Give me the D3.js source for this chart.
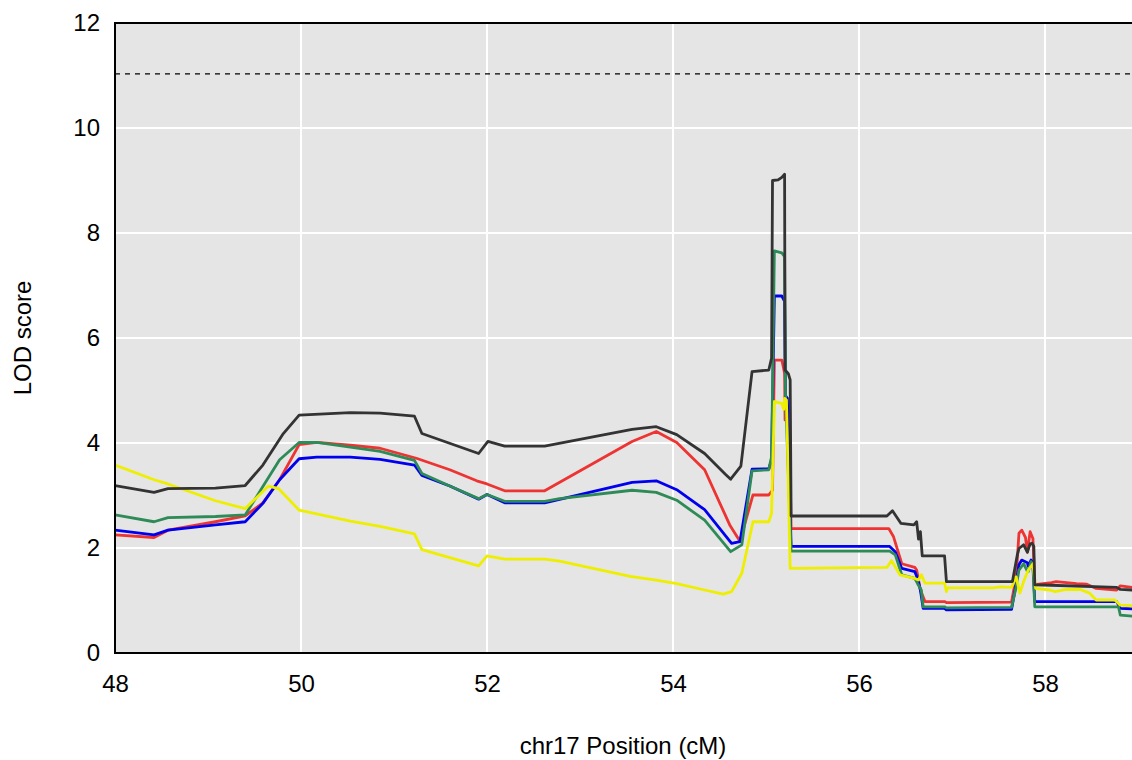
<!DOCTYPE html>
<html>
<head>
<meta charset="utf-8">
<script src="https://cdn.jsdelivr.net/npm/d3@7"></script>
<style>
  body { margin: 0; background: #fff; }
  text { font-family: "Liberation Sans", Arial, Helvetica, sans-serif; }
</style>
</head>
<body>
<div id="root"></div>
<script>
// LOD profiles along chr17, [position cM, LOD]
const blackLod = [[48.00,3.19],[48.42,3.06],[48.57,3.13],[49.08,3.14],[49.40,3.19],[49.59,3.58],[49.81,4.18],[49.98,4.53],[50.53,4.58],[50.85,4.57],[51.22,4.51],[51.30,4.18],[51.91,3.80],[52.01,4.03],[52.19,3.94],[52.62,3.94],[53.56,4.26],[53.82,4.31],[54.04,4.16],[54.34,3.80],[54.56,3.41],[54.62,3.31],[54.73,3.56],[54.85,5.36],[55.03,5.39],[55.06,5.62],[55.07,9.00],[55.13,9.01],[55.17,9.06],[55.20,9.12],[55.205,5.39],[55.24,5.32],[55.26,5.20],[55.27,2.61],[56.30,2.61],[56.36,2.71],[56.45,2.47],[56.59,2.44],[56.62,2.50],[56.64,2.17],[56.66,2.31],[56.68,1.85],[56.92,1.85],[56.94,1.36],[57.65,1.36],[57.70,1.85],[57.72,1.99],[57.77,2.06],[57.81,1.92],[57.84,2.08],[57.86,2.09],[57.88,2.03],[57.89,1.30],[58.77,1.25],[58.81,1.21],[58.94,1.20]];
const redLod = [[48.00,2.25],[48.42,2.20],[48.57,2.34],[49.08,2.50],[49.40,2.61],[49.59,2.86],[49.77,3.30],[49.98,3.97],[50.17,4.01],[50.53,3.96],[50.85,3.90],[51.24,3.71],[51.60,3.49],[51.89,3.28],[52.00,3.22],[52.19,3.09],[52.62,3.09],[53.56,4.03],[53.82,4.22],[54.04,4.01],[54.34,3.49],[54.61,2.44],[54.72,2.13],[54.86,3.01],[55.03,3.01],[55.07,3.10],[55.09,5.58],[55.17,5.58],[55.20,5.33],[55.205,4.44],[55.23,4.41],[55.25,4.30],[55.27,2.37],[56.32,2.37],[56.37,2.22],[56.46,1.70],[56.60,1.63],[56.62,1.58],[56.66,1.20],[56.71,0.98],[56.92,0.98],[56.94,0.96],[57.64,0.97],[57.69,1.45],[57.72,2.28],[57.75,2.34],[57.79,2.20],[57.81,1.92],[57.84,2.31],[57.87,2.18],[57.89,1.30],[58.07,1.34],[58.12,1.36],[58.34,1.32],[58.45,1.31],[58.55,1.23],[58.77,1.20],[58.81,1.28],[58.94,1.25]];
const blueLod = [[48.00,2.34],[48.42,2.25],[48.57,2.34],[49.08,2.44],[49.40,2.50],[49.59,2.85],[49.77,3.30],[49.98,3.70],[50.17,3.73],[50.53,3.73],[50.85,3.69],[51.22,3.58],[51.30,3.38],[51.60,3.18],[51.91,2.93],[52.00,3.02],[52.19,2.86],[52.62,2.86],[53.56,3.25],[53.82,3.28],[54.04,3.11],[54.34,2.73],[54.63,2.09],[54.72,2.12],[54.85,3.50],[55.03,3.51],[55.06,3.68],[55.09,6.80],[55.17,6.80],[55.20,6.70],[55.21,4.90],[55.23,4.85],[55.27,2.03],[56.33,2.03],[56.39,1.93],[56.46,1.61],[56.60,1.55],[56.63,1.42],[56.66,1.20],[56.69,0.85],[56.92,0.85],[56.94,0.82],[57.64,0.83],[57.69,1.32],[57.72,1.68],[57.75,1.77],[57.81,1.72],[57.82,1.65],[57.85,1.77],[57.87,1.72],[57.89,0.98],[58.77,0.98],[58.81,0.85],[58.94,0.84]];
const greenLod = [[48.00,2.63],[48.42,2.50],[48.57,2.58],[49.08,2.60],[49.40,2.63],[49.59,3.17],[49.77,3.68],[49.98,4.01],[50.17,4.01],[50.53,3.92],[50.85,3.84],[51.22,3.67],[51.30,3.42],[51.60,3.18],[51.91,2.94],[52.00,3.02],[52.19,2.89],[52.62,2.89],[52.78,2.94],[53.56,3.10],[53.82,3.06],[54.04,2.91],[54.34,2.53],[54.62,1.93],[54.74,2.06],[54.85,3.47],[55.03,3.49],[55.06,3.74],[55.09,7.66],[55.17,7.62],[55.20,7.55],[55.21,4.90],[55.27,1.94],[56.33,1.94],[56.39,1.87],[56.46,1.49],[56.60,1.42],[56.63,1.32],[56.67,1.20],[56.69,0.88],[56.92,0.88],[56.94,0.86],[57.64,0.87],[57.69,1.26],[57.72,1.58],[57.77,1.70],[57.81,1.56],[57.82,1.55],[57.85,1.74],[57.87,1.66],[57.89,0.88],[58.79,0.88],[58.81,0.72],[58.94,0.70]];
const yellowLod = [[48.00,3.58],[48.42,3.30],[48.57,3.22],[49.08,2.90],[49.40,2.75],[49.65,3.18],[49.76,3.13],[49.98,2.72],[50.53,2.51],[50.85,2.41],[51.22,2.27],[51.30,1.97],[51.91,1.66],[52.00,1.85],[52.19,1.79],[52.62,1.79],[52.78,1.75],[53.54,1.46],[53.82,1.39],[54.04,1.32],[54.34,1.20],[54.54,1.12],[54.63,1.17],[54.74,1.52],[54.86,2.50],[55.03,2.50],[55.06,2.66],[55.09,4.79],[55.14,4.77],[55.17,4.75],[55.19,4.64],[55.20,4.85],[55.22,4.82],[55.26,1.61],[56.30,1.63],[56.35,1.76],[56.44,1.49],[56.60,1.42],[56.64,1.39],[56.67,1.49],[56.71,1.33],[56.92,1.33],[56.94,1.17],[56.95,1.24],[57.44,1.24],[57.52,1.26],[57.64,1.25],[57.69,1.45],[57.73,1.14],[57.77,1.36],[57.82,1.58],[57.87,1.70],[57.90,1.23],[58.05,1.20],[58.11,1.17],[58.23,1.21],[58.38,1.21],[58.48,1.14],[58.55,1.01],[58.75,1.01],[58.81,0.91],[58.94,0.90]];

const xTicks = [48, 50, 52, 54, 56, 58];
const yTicks = [0, 2, 4, 6, 8, 10, 12];
const threshold = 11.03;

// draw order, back to front
const series = [
  { values: redLod, color: "#ee3333" },
  { values: blueLod, color: "#0000ee" },
  { values: greenLod, color: "#2e8b57" },
  { values: yellowLod, color: "#eeee00" },
  { values: blackLod, color: "#333333" }
];

const width = 1132, height = 760;
const margin = { left: 115, top: 23 };
const plotW = 93 * 11;   // 48..59 cM, runs past the window edge
const plotH = 630;
const fontSize = 24;

const x = d3.scaleLinear().domain([48, 59]).range([margin.left, margin.left + plotW]);
const y = d3.scaleLinear().domain([0, 12]).range([margin.top + plotH, margin.top]);

const svg = d3.select("#root").append("svg")
  .attr("width", width)
  .attr("height", height);

svg.append("defs").append("clipPath").attr("id", "clip")
  .append("rect")
  .attr("x", margin.left).attr("y", margin.top)
  .attr("width", plotW).attr("height", plotH);

svg.append("rect")
  .attr("x", margin.left).attr("y", margin.top)
  .attr("width", plotW).attr("height", plotH)
  .attr("fill", "#e5e5e5");

// grid
svg.append("g").selectAll("line").data(xTicks).join("line")
  .attr("x1", d => x(d)).attr("x2", d => x(d))
  .attr("y1", margin.top).attr("y2", margin.top + plotH)
  .attr("stroke", "#fff").attr("stroke-width", 2);
svg.append("g").selectAll("line").data(yTicks).join("line")
  .attr("x1", margin.left).attr("x2", margin.left + plotW)
  .attr("y1", d => y(d)).attr("y2", d => y(d))
  .attr("stroke", "#fff").attr("stroke-width", 2);

// threshold
svg.append("line")
  .attr("x1", margin.left).attr("x2", margin.left + plotW)
  .attr("y1", y(threshold)).attr("y2", y(threshold))
  .attr("stroke", "#000").attr("stroke-width", 1.3)
  .attr("stroke-dasharray", "5,5");

const line = d3.line().x(d => x(d[0])).y(d => y(d[1]));
svg.append("g").attr("clip-path", "url(#clip)")
  .selectAll("path").data(series).join("path")
  .attr("d", d => line(d.values))
  .attr("fill", "none")
  .attr("stroke", d => d.color)
  .attr("stroke-width", 2.8)
  .attr("stroke-linejoin", "round");

// frame
svg.append("rect")
  .attr("x", margin.left).attr("y", margin.top)
  .attr("width", plotW).attr("height", plotH)
  .attr("fill", "none").attr("stroke", "#000").attr("stroke-width", 2);

// tick labels
const xAxis = d3.axisBottom(x).tickValues(xTicks).tickSize(0).tickPadding(22);
svg.append("g")
  .attr("transform", `translate(0,${margin.top + plotH})`)
  .call(xAxis)
  .call(g => g.select(".domain").remove())
  .selectAll("text").attr("font-size", fontSize).attr("fill", "#000")
  .attr("font-family", "Liberation Sans, Arial, sans-serif");

const yAxis = d3.axisLeft(y).tickValues(yTicks).tickSize(0).tickPadding(15);
svg.append("g")
  .attr("transform", `translate(${margin.left},0)`)
  .call(yAxis)
  .call(g => g.select(".domain").remove())
  .selectAll("text").attr("font-size", fontSize).attr("fill", "#000")
  .attr("font-family", "Liberation Sans, Arial, sans-serif");

// axis titles
svg.append("text")
  .attr("x", 623).attr("y", 754)
  .attr("text-anchor", "middle")
  .attr("font-size", fontSize)
  .text("chr17 Position (cM)");

svg.append("text")
  .attr("transform", "translate(31,338) rotate(-90)")
  .attr("text-anchor", "middle")
  .attr("font-size", fontSize)
  .text("LOD score");
</script>
</body>
</html>
